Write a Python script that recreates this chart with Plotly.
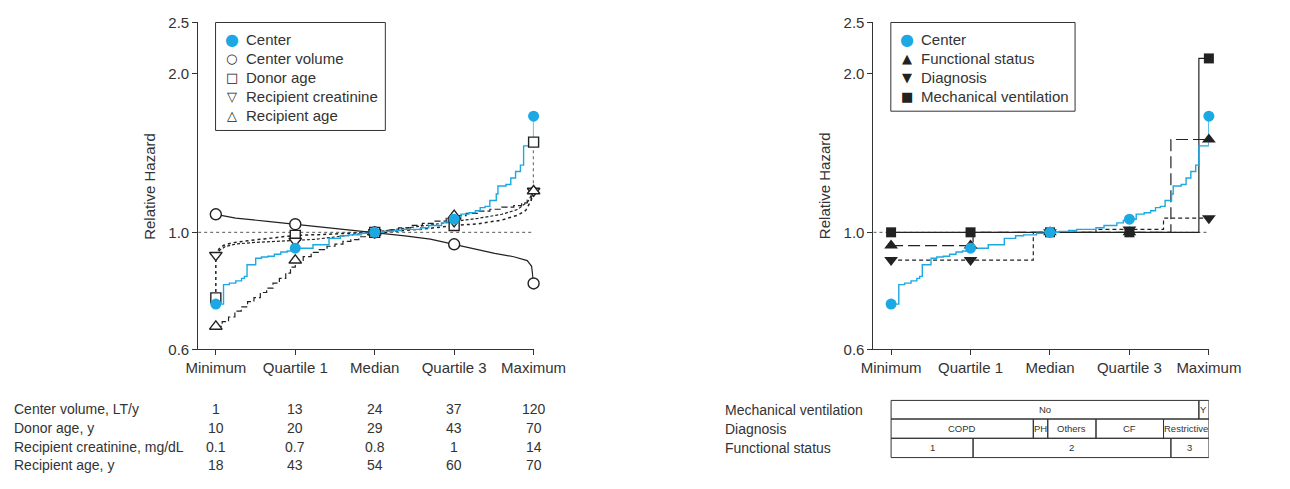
import numpy as np
import plotly.graph_objects as go

# The page keeps the browser's default 8px body margin, so the figure is drawn
# 16px smaller than the window and every layout position is offset by that margin.
PAGE_W, PAGE_H = 1290, 489
BODY_MARGIN = 8
W, H = PAGE_W - 2 * BODY_MARGIN, PAGE_H - 2 * BODY_MARGIN

FONT = "Liberation Sans, Arial, Helvetica, sans-serif"
GLYPH_FONT = "DejaVu Sans, sans-serif"
INK = "#333333"
BLUE = "#1ca8e3"
BLACK = "#222222"

# ---------------------------------------------------------------- data
quartile_labels = ["Minimum", "Quartile 1", "Median", "Quartile 3", "Maximum"]
quartile_pos = [0, 1, 2, 3, 4]

# Center effect (step function, shared by both panels)
center_x = [0, 0.097, 0.170, 0.251, 0.324, 0.36, 0.393, 0.502, 0.575, 0.656, 0.737,
            0.818, 0.899, 1.0, 1.223, 1.425, 1.567, 1.668, 1.830, 2.0, 2.113,
            2.235, 2.336, 2.579, 2.680, 2.842, 2.923, 3.0, 3.085, 3.186, 3.267,
            3.328, 3.389, 3.449, 3.530, 3.551, 3.652, 3.713, 3.773, 3.834, 3.874, 4.0]
center_hr = [0.731, 0.796, 0.801, 0.809, 0.818, 0.825, 0.868, 0.893, 0.898, 0.901, 0.909,
             0.918, 0.922, 0.933, 0.947, 0.974, 0.985, 0.989, 0.996, 1.0, 1.004,
             1.008, 1.013, 1.020, 1.030, 1.042, 1.053, 1.059, 1.083, 1.089, 1.099,
             1.114, 1.120, 1.149, 1.182, 1.224, 1.232, 1.268, 1.304, 1.341, 1.459, 1.661]
center_marks = [0.731, 0.933, 1.0, 1.059, 1.661]

# Center volume
volume_x = [0, 0.25, 0.65, 1.0, 1.25, 1.5, 1.75, 2.0, 2.38, 2.7, 3.0, 3.23, 3.51,
            3.75, 3.92, 3.975, 3.99, 4.0]
volume_hr = [1.082, 1.064, 1.049, 1.036, 1.024, 1.016, 1.008, 1.0, 0.985, 0.971, 0.949,
             0.931, 0.912, 0.899, 0.884, 0.862, 0.826, 0.800]
volume_marks = [1.082, 1.036, 1.0, 0.949, 0.800]

# Donor age
donor_x = [0, 0, 0.04, 0.1, 0.2, 0.35, 0.5, 0.7, 0.85, 1.0, 1.3, 1.6, 2.0, 2.3, 2.6,
           3.0, 3.3, 3.6, 3.8, 3.9, 3.97, 4.0, 4.0]
donor_hr = [0.751, 0.905, 0.930, 0.945, 0.955, 0.962, 0.968, 0.975, 0.981, 0.987, 0.990,
            0.994, 1.0, 1.006, 1.014, 1.030, 1.038, 1.055, 1.078, 1.100, 1.150, 1.198, 1.483]
donor_marks = [0.751, 0.987, 1.0, 1.030, 1.483]

# Recipient creatinine
creat_x = [0, 0.05, 0.12, 0.25, 0.45, 0.7, 1.0, 1.25, 1.5, 1.75, 2.0, 2.25, 2.5, 2.75,
           3.0, 3.3, 3.6, 3.8, 3.93, 4.0]
creat_hr = [0.905, 0.925, 0.940, 0.950, 0.956, 0.960, 0.963, 0.970, 0.980, 0.991, 1.0,
            1.010, 1.022, 1.035, 1.049, 1.063, 1.082, 1.105, 1.145, 1.198]
creat_marks = [0.905, 0.963, 1.0, 1.049, 1.198]

# Recipient age (step function)
rage_x = [0, 0.08, 0.16, 0.24, 0.32, 0.40, 0.48, 0.56, 0.64, 0.72, 0.80, 0.88, 0.94,
          1.0, 1.1, 1.2, 1.3, 1.4, 1.5, 1.6, 1.7, 1.8, 1.9, 2.0, 2.15, 2.3, 2.45, 2.6,
          2.75, 2.9, 3.0, 3.15, 3.3, 3.45, 3.6, 3.75, 3.85, 3.92, 3.97, 4.0]
rage_hr = [0.663, 0.677, 0.691, 0.709, 0.722, 0.739, 0.752, 0.769, 0.784, 0.801, 0.818,
           0.837, 0.859, 0.885, 0.899, 0.916, 0.927, 0.941, 0.950, 0.961, 0.969, 0.981,
           0.990, 1.0, 1.011, 1.020, 1.031, 1.040, 1.050, 1.063, 1.076, 1.086, 1.097,
           1.106, 1.116, 1.124, 1.137, 1.151, 1.171, 1.198]
rage_marks = [0.663, 0.885, 1.0, 1.076, 1.198]

# Categorical covariates: level boundaries on the quartile scale and relative hazards
vent_cuts = [0, 3.874, 4.0]
vent_levels = ["No", "Y"]
vent_hr = [1.0, 2.137]

diag_cuts = [0, 1.790, 1.972, 2.579, 3.429, 4.0]
diag_levels = ["COPD", "PH", "Others", "CF", "Restrictive"]
diag_hr = [0.886, 1.0, 1.0, 1.013, 1.064]

func_cuts = [0, 1.032, 3.522, 4.0]
func_levels = ["1", "2", "3"]
func_hr = [0.944, 1.0, 1.5]

# Quartile values of the continuous covariates
table_rows = ["Center volume, LT/y", "Donor age, y", "Recipient creatinine, mg/dL",
              "Recipient age, y"]
volume_q = ["1", "13", "24", "37", "120"]
donor_q = ["10", "20", "29", "43", "70"]
creat_q = ["0.1", "0.7", "0.8", "1", "14"]
rage_q = ["18", "43", "54", "60", "70"]

y_ticks = [0.6, 1.0, 2.0, 2.5]
y_ticktext = ["0.6", "1.0", "2.0", "2.5"]

left_legend = [("Center", "●", BLUE, 16), ("Center volume", "○", BLACK, 13),
               ("Donor age", "□", BLACK, 13), ("Recipient creatinine", "▽", BLACK, 13),
               ("Recipient age", "△", BLACK, 13)]
right_legend = [("Center", "●", BLUE, 16), ("Functional status", "▲", BLACK, 13),
                ("Diagnosis", "▼", BLACK, 13), ("Mechanical ventilation", "■", BLACK, 13)]


# ---------------------------------------------------------------- helpers
def px_x(p):
    """Window pixel column -> paper fraction."""
    return (p - BODY_MARGIN) / W


def px_y(p):
    """Window pixel row -> paper fraction."""
    return 1 - (p - BODY_MARGIN) / H


def step_at(cuts, hr, x):
    idx = np.searchsorted(cuts, x, side="right") - 1
    return [hr[min(i, len(hr) - 1)] for i in idx]


def step_xy(cuts, hr):
    return list(cuts), list(hr) + [hr[-1]]


fig = go.Figure()


def add_line(x, y, axes, dash, color=BLACK, width=1.3, shape="linear"):
    fig.add_trace(go.Scatter(
        x=x, y=y, mode="lines", xaxis=axes[0], yaxis=axes[1], showlegend=False,
        line=dict(color=color, width=width, dash=dash, shape=shape), hoverinfo="skip"))


def add_marks(y, axes, name, symbol, size, fill, edge):
    fig.add_trace(go.Scatter(
        x=quartile_pos, y=y, mode="markers", xaxis=axes[0], yaxis=axes[1], name=name,
        showlegend=False, cliponaxis=False,
        marker=dict(symbol=symbol, size=size, color=fill,
                    line=dict(color=edge, width=1.4 if fill == "white" else 0))))


L = ("x", "y")
R = ("x2", "y2")
x_lo = -0.222

# ---------------------------------------------------------------- left panel
add_line([x_lo, 4.0], [1, 1], L, "dot", color="#555555", width=1)
add_line(volume_x, volume_hr, L, "solid", width=1.2)
add_line(donor_x, donor_hr, L, "dot", width=1.5)
add_line(creat_x, creat_hr, L, "3px,2px", width=1.2)
add_line(rage_x, rage_hr, L, "6px,3px", width=1.2, shape="hv")
add_line(center_x, center_hr, L, "solid", color=BLUE, width=1.4, shape="hv")

add_marks(volume_marks, L, "Center volume", "circle", 11, "white", BLACK)
add_marks(donor_marks, L, "Donor age", "square", 10, "white", BLACK)
add_marks(creat_marks, L, "Recipient creatinine", "triangle-down", 11, "white", BLACK)
add_marks(rage_marks, L, "Recipient age", "triangle-up", 11, "white", BLACK)
add_marks(center_marks, L, "Center", "circle", 11, BLUE, BLUE)

# ---------------------------------------------------------------- right panel
add_line([x_lo, 4.03], [1, 1], R, "dot", color="#555555", width=1)
vx, vy = step_xy(vent_cuts, vent_hr)
add_line(vx, vy, R, "solid", width=1.2, shape="hv")
fx, fy = step_xy(func_cuts, func_hr)
add_line(fx, fy, R, "12px,5px", width=1.2, shape="hv")
dx, dy = step_xy(diag_cuts, diag_hr)
add_line(dx, dy, R, "4px,3px", width=1.2, shape="hv")
add_line(center_x, center_hr, R, "solid", color=BLUE, width=1.4, shape="hv")

add_marks(step_at(diag_cuts, diag_hr, quartile_pos), R, "Diagnosis", "triangle-down",
          12, BLACK, BLACK)
add_marks(step_at(func_cuts, func_hr, quartile_pos), R, "Functional status", "triangle-up",
          12, BLACK, BLACK)
add_marks(step_at(vent_cuts, vent_hr, quartile_pos), R, "Mechanical ventilation", "square",
          10, BLACK, BLACK)
add_marks(center_marks, R, "Center", "circle", 11, BLUE, BLUE)

# ---------------------------------------------------------------- axes
plot_top, plot_bot = 22, 361
y_dom = [px_y(plot_bot), px_y(plot_top)]
axis_common = dict(showline=True, linecolor=INK, linewidth=1, ticks="outside", ticklen=5,
                   tickwidth=1, tickcolor=INK, showgrid=False, zeroline=False,
                   tickfont=dict(family=FONT, size=15, color=INK))
xaxis = dict(axis_common, range=[x_lo, 4.0], tickvals=quartile_pos,
             ticktext=quartile_labels)
yaxis = dict(axis_common, type="log", range=[np.log10(0.6), np.log10(2.5)],
             tickvals=y_ticks, ticktext=y_ticktext)

fig.update_layout(
    width=W, height=H, margin=dict(l=0, r=0, t=0, b=0),
    paper_bgcolor="white", plot_bgcolor="white", showlegend=False,
    font=dict(family=FONT, color=INK),
    xaxis=dict(xaxis, domain=[px_x(201), px_x(548.7)], anchor="y"),
    yaxis=dict(yaxis, domain=y_dom, anchor="x"),
    xaxis2=dict(xaxis, domain=[px_x(901), px_x(1248.7)], anchor="y2"),
    yaxis2=dict(yaxis, domain=y_dom, anchor="x2"),
)

annotations = []
shapes = []


def text(t, x, y, size=15, xanchor="left", xref="paper", family=FONT, color=INK,
         angle=0):
    annotations.append(dict(text=t, xref=xref, yref="paper", x=x, y=y,
                            xanchor=xanchor, yanchor="middle", showarrow=False,
                            textangle=angle,
                            font=dict(family=family, size=size, color=color)))


# y axis titles
for cx in (151, 851):
    text("Relative Hazard", px_x(cx), px_y(191.5), xanchor="center", angle=-90)

# legends (box, key glyph, label)
for entries, box_l, box_r, box_b in ((left_legend, 219, 395, 134),
                                     (right_legend, 919, 1110, 114)):
    shapes.append(dict(type="rect", xref="paper", yref="paper", x0=px_x(box_l),
                       x1=px_x(box_r), y0=px_y(box_b), y1=px_y(22),
                       line=dict(color=INK, width=1), fillcolor="white", layer="above"))
    for i, (label, glyph, color, gsize) in enumerate(entries):
        ry = 40 + 19.5 * i
        text(glyph, px_x(box_l + 17), px_y(ry), size=gsize, xanchor="center",
             family=GLYPH_FONT, color=color)
        text(label, px_x(box_l + 29), px_y(ry), size=15)

# quartile value table (left)
row_y = [423, 443, 462, 481]
for label, vals, ry in zip(table_rows, [volume_q, donor_q, creat_q, rage_q], row_y):
    text(label, px_x(8), px_y(ry), size=14)
    for q, v in zip(quartile_pos, vals):
        text(v, q, px_y(ry), size=14, xanchor="center", xref="x")

# categorical level table (right)
cat_rows = [("Mechanical ventilation", vent_cuts, vent_levels, 414, 433.3),
            ("Diagnosis", diag_cuts, diag_levels, 433.3, 453.3),
            ("Functional status", func_cuts, func_levels, 453.3, 473.3)]
for label, cuts, levels, top, bot in cat_rows:
    text(label, px_x(745), px_y((top + bot) / 2), size=14)
    for a, b, lev in zip(cuts[:-1], cuts[1:], levels):
        shapes.append(dict(type="rect", xref="x2", yref="paper", x0=a, x1=b,
                           y0=px_y(bot), y1=px_y(top), line=dict(color=INK, width=1)))
        text(lev, (a + b) / 2, px_y((top + bot) / 2), size=9.5, xanchor="center",
             xref="x2")

fig.update_layout(annotations=annotations, shapes=shapes)
fig.write_html("out.html")
